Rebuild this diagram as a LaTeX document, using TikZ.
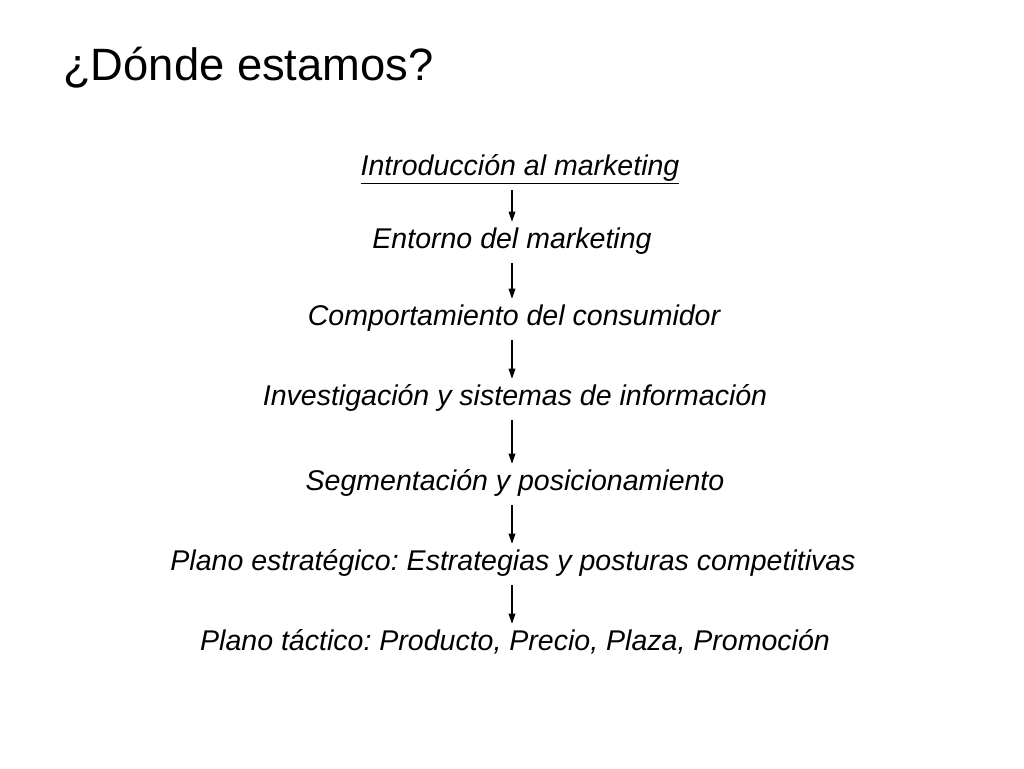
\documentclass[tikz,border=0pt]{standalone}
\usepackage{fontspec}
\setmainfont{Liberation Sans}
\usetikzlibrary{arrows.meta}
\frenchspacing
\begin{document}
\begin{tikzpicture}[x=0.75pt,y=-0.75pt,
  item/.style={anchor=base,inner sep=0pt,text height=16pt,text depth=5pt,font=\fontsize{21.4pt}{24pt}\selectfont\itshape},
  flow/.style={-{Triangle[length=7.5pt,width=5pt]},line width=0.9pt,shorten <=6pt,shorten >=3.5pt}]
\fill[white] (0,0) rectangle (1024,768);
\node[anchor=base west,inner sep=0pt,font=\fontsize{34pt}{40pt}\selectfont] (title) at (63,80) {¿Dónde estamos?};
\node[item] (i1) at (520,175) {\underline{Introducción al marketing}};
\node[item] (i2) at (512,248) {Entorno del marketing};
\node[item] (i3) at (514,325) {Comportamiento del consumidor};
\node[item] (i4) at (515,405) {Investigación y sistemas de información};
\node[item] (i5) at (515,490) {Segmentación y posicionamiento};
\node[item] (i6) at (513,570) {Plano estratégico: Estrategias y posturas competitivas};
\node[item] (i7) at (515,650) {Plano táctico: Producto, Precio, Plaza, Promoción};
\coordinate (ax) at (512,0);
\foreach \a/\b in {i1/i2,i2/i3,i3/i4,i4/i5,i5/i6,i6/i7}
  \draw[flow] (\a.south -| ax) -- (\b.north -| ax);
\end{tikzpicture}
\end{document}
